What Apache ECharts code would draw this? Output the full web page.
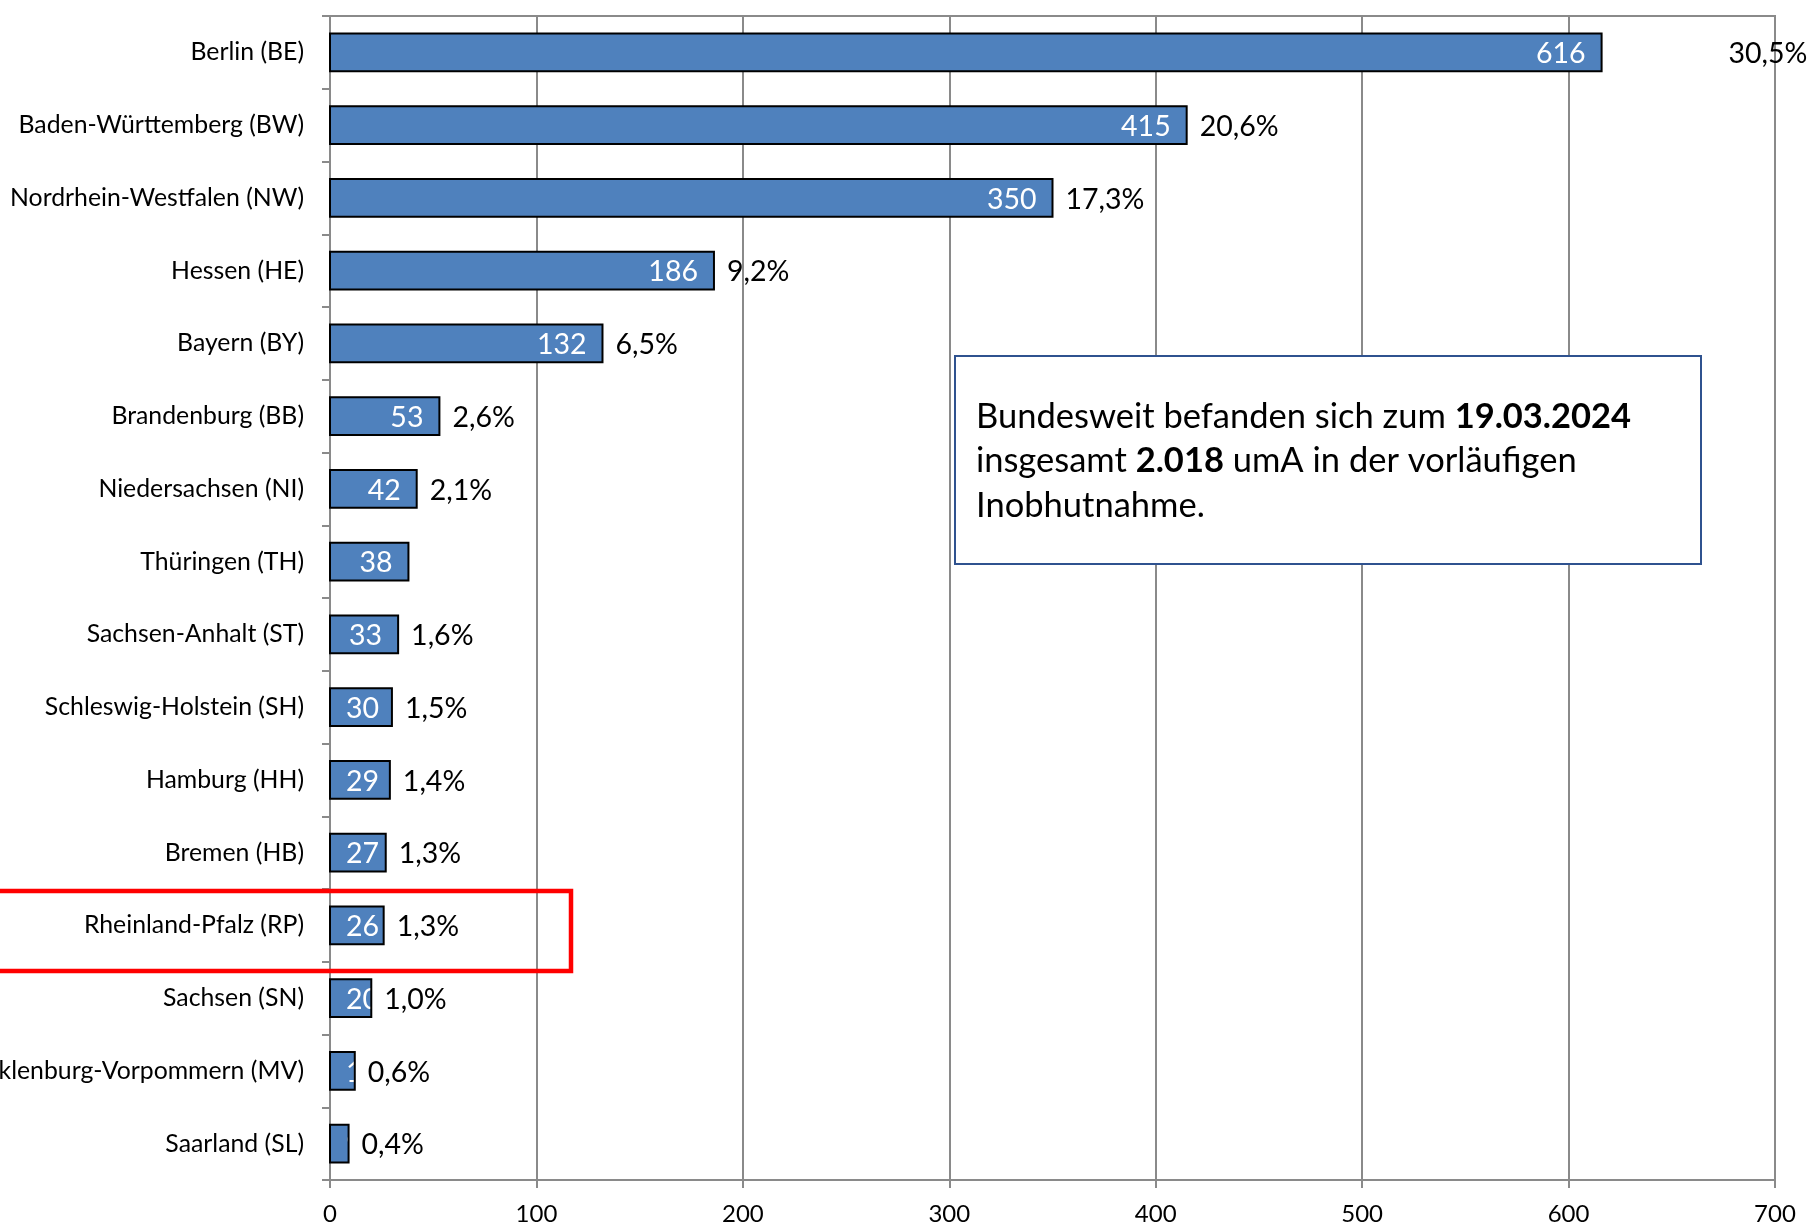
<!DOCTYPE html>
<html>
<head>
<meta charset="utf-8">
<script src="https://cdn.jsdelivr.net/npm/echarts@6/dist/echarts.min.js"></script>
<style>
html,body{margin:0;padding:0;background:#fff;}
#chart{width:1812px;height:1225px;}
</style>
</head>
<body>
<div id="chart"></div>
<script>
// ---- data ----
const categories = [
  'Berlin (BE)', 'Baden-Württemberg (BW)', 'Nordrhein-Westfalen (NW)', 'Hessen (HE)',
  'Bayern (BY)', 'Brandenburg (BB)', 'Niedersachsen (NI)', 'Thüringen (TH)',
  'Sachsen-Anhalt (ST)', 'Schleswig-Holstein (SH)', 'Hamburg (HH)', 'Bremen (HB)',
  'Rheinland-Pfalz (RP)', 'Sachsen (SN)', 'Mecklenburg-Vorpommern (MV)', 'Saarland (SL)'
];
const counts = [616, 415, 350, 186, 132, 53, 42, 38, 33, 30, 29, 27, 26, 20, 12, 9];
const shares = ['30,5%', '20,6%', '17,3%', '9,2%', '6,5%', '2,6%', '2,1%', '',
  '1,6%', '1,5%', '1,4%', '1,3%', '1,3%', '1,0%', '0,6%', '0,4%'];
const axisMin = 0, axisMax = 700, axisStep = 100;
const noteLines = [
  'Bundesweit befanden sich zum {b|19.03.2024}',
  'insgesamt {b|2.018} umA in der vorläufigen',
  'Inobhutnahme.'
];

// ---- style ----
const FONT = 'Lato';
const BAR_COLOR = '#4f81bd';
const GRID_COLOR = '#8a8a8a';
const VAL_FONT = '28.5px ' + FONT;
const PAD = 16;
const PCT_GAP = 13;
const pctAnchorOverride = {0: 677.5}; // Berlin share label sits at the right edge

const mctx = document.createElement('canvas').getContext('2d');
function textW(t, font) { mctx.font = font; return mctx.measureText(t).width; }

const chart = echarts.init(document.getElementById('chart'), null, {renderer: 'canvas'});

const option = {
  animation: false,
  backgroundColor: '#fff',
  grid: {
    left: 330, right: 37, top: 16, bottom: 45,
    show: true, borderColor: GRID_COLOR, borderWidth: 2,
    containLabel: false, outerBoundsMode: 'none'
  },
  xAxis: {
    type: 'value', min: axisMin, max: axisMax, interval: axisStep,
    axisLine: {show: true, lineStyle: {color: GRID_COLOR, width: 2}},
    axisTick: {show: true, length: 8, lineStyle: {color: GRID_COLOR, width: 2}},
    axisLabel: {fontFamily: FONT, fontSize: 24, color: '#000', margin: 22},
    splitLine: {show: true, lineStyle: {color: GRID_COLOR, width: 2}}
  },
  yAxis: {
    type: 'category', inverse: true, data: categories,
    axisLine: {show: true, lineStyle: {color: GRID_COLOR, width: 2}},
    axisTick: {show: true, length: 8, lineStyle: {color: GRID_COLOR, width: 2}},
    axisLabel: {fontFamily: FONT, fontSize: 24.8, color: '#000', margin: 26},
    splitLine: {show: false}
  },
  series: [{
    type: 'custom',
    silent: true,
    clip: false,
    encode: {x: 0, y: 1},
    data: counts.map((v, i) => [v, i]),
    renderItem: function (params, api) {
      const v = api.value(0), idx = api.value(1);
      const base = api.coord([0, idx]);
      const end = api.coord([v, idx]);
      const band = api.size([0, 1])[1];
      const h = band * 0.52;
      const y0 = base[1] - h / 2;
      const w = end[0] - base[0];
      const txt = String(v);
      const tw = textW(txt, VAL_FONT);
      const tx = Math.max(end[0] - PAD, base[0] + PAD + tw);
      let px = end[0] + PCT_GAP;
      if (pctAnchorOverride[idx] !== undefined) px = api.coord([pctAnchorOverride[idx], idx])[0];
      return {
        type: 'group',
        children: [
          {type: 'rect', z2: 0, shape: {x: base[0], y: y0, width: w, height: h},
            style: {fill: BAR_COLOR}},
          {type: 'text', z2: 1, style: {text: txt, x: tx, y: base[1] + 1.5,
            textAlign: 'right', align: 'right', textVerticalAlign: 'middle', verticalAlign: 'middle',
            fill: '#fff', font: VAL_FONT}},
          {type: 'rect', z2: 2, shape: {x: base[0], y: y0, width: w, height: h},
            style: {fill: 'none', stroke: '#000', lineWidth: 2}},
          {type: 'text', z2: 3, style: {text: shares[idx], x: px, y: base[1] + 1.5,
            textAlign: 'left', align: 'left', textVerticalAlign: 'middle', verticalAlign: 'middle',
            fill: '#000', font: VAL_FONT}}
        ]
      };
    }
  }],
  graphic: [
    {
      type: 'rect', z: 100,
      shape: {x: 955, y: 356, width: 746, height: 208},
      style: {fill: '#fff', stroke: '#2f528f', lineWidth: 2}
    },
    {
      type: 'text', z: 101, x: 976, y: 461,
      style: {
        text: noteLines.join('\n'),
        fontFamily: FONT, fontSize: 34.5, fill: '#000',
        lineHeight: 44.5,
        verticalAlign: 'middle', textVerticalAlign: 'middle',
        rich: {b: {fontFamily: FONT, fontSize: 34.5, fontWeight: 'bold', lineHeight: 44.5, fill: '#000'}}
      }
    },
    {
      type: 'rect', z: 102,
      shape: {x: -6, y: 891, width: 577, height: 80},
      style: {fill: 'none', stroke: '#ff0000', lineWidth: 4.5}
    }
  ]
};
chart.setOption(option);
</script>
</body>
</html>
